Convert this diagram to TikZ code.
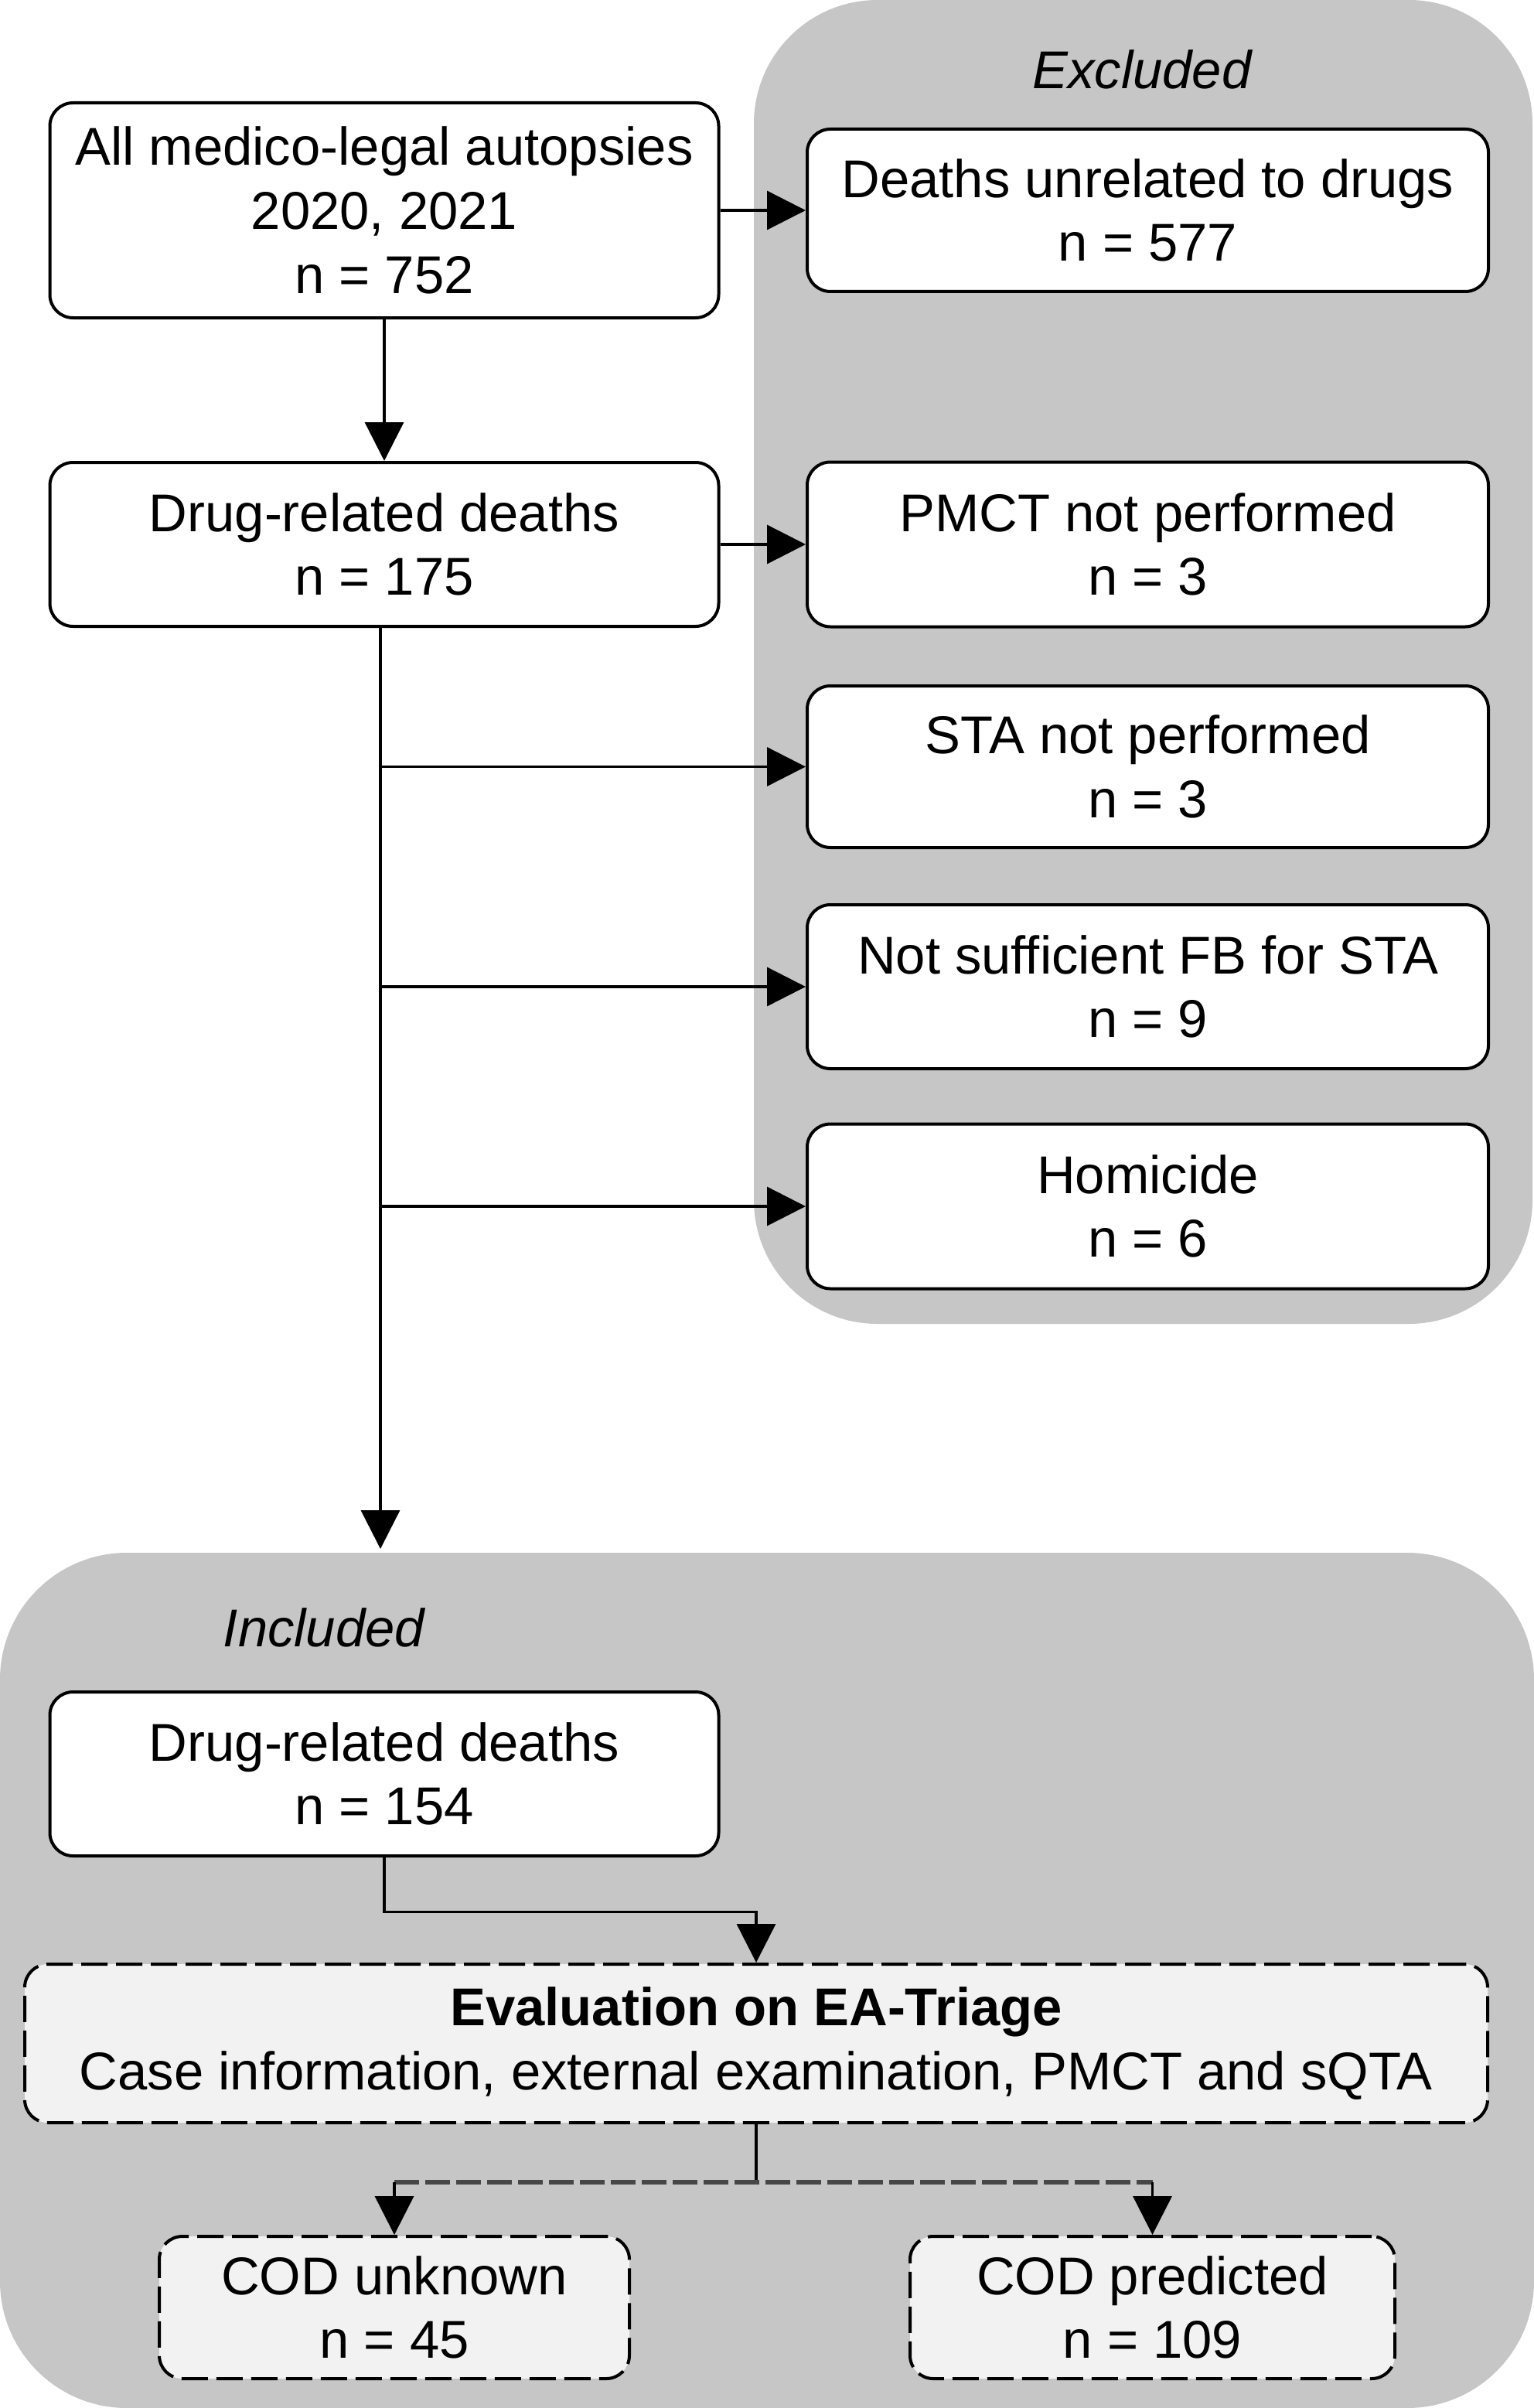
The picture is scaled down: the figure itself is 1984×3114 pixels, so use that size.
\documentclass[tikz,border=0pt]{standalone}
\usepackage{fontspec}
\setmainfont{Liberation Sans}
\usetikzlibrary{arrows.meta}
\definecolor{panelgray}{RGB}{198,198,198}
\definecolor{evalfill}{RGB}{242,242,242}
\tikzset{
  txt/.style={font=\fontsize{34.4pt}{41.3pt}\selectfont},
  flowbox/.style={txt, draw=black, line width=2pt, rounded corners=15pt, fill=white,
                  align=center, inner sep=0pt},
  dashbox/.style={flowbox, fill=evalfill, dash pattern=on 17pt off 5.5pt},
  conn/.style={line width=1.7pt, draw=black},
  arr/.style={conn, -{Triangle[length=25pt,width=25pt]}},
  dconn/.style={line width=2.8pt, draw=black!72, dash pattern=on 16pt off 4pt},
  panel/.style={fill=panelgray, draw=none, rounded corners=80pt},
  grouplabel/.style={txt, font=\fontsize{34.4pt}{41.3pt}\selectfont\itshape, anchor=base, inner sep=0pt}
}
\begin{document}
\begin{tikzpicture}[x=0.5pt,y=-0.5pt]
\useasboundingbox (0,0) rectangle (1984,3114);
% panels
\path[panel] (975,0) rectangle (1982,1712);
\path[panel, rounded corners=82pt] (0,2008) rectangle (1984,3114);
\node[grouplabel] (exlab) at (1477,115) {Excluded};
\node[grouplabel] (inlab) at (419,2129) {Included};
% left column
\node[flowbox, minimum width=432.5pt, minimum height=139pt] (all) at (497,272)
  {All medico-legal autopsies\\2020, 2021\\n = 752};
\node[flowbox, minimum width=432.5pt, minimum height=106pt] (d175) at (497,704)
  {Drug-related deaths\\n = 175};
\node[flowbox, minimum width=432.5pt, minimum height=106pt] (d154) at (497,2294)
  {Drug-related deaths\\n = 154};
% right column
\node[flowbox, minimum width=440.5pt, minimum height=105pt] (unrel) at (1484.5,272)
  {Deaths unrelated to drugs\\n = 577};
\node[flowbox, minimum width=440.5pt, minimum height=106.5pt] (pmct) at (1484.5,704)
  {PMCT not performed\\n = 3};
\node[flowbox, minimum width=440.5pt, minimum height=104.5pt] (sta) at (1484.5,991.5)
  {STA not performed\\n = 3};
\node[flowbox, minimum width=440.5pt, minimum height=106pt] (nsfb) at (1484.5,1276)
  {Not sufficient FB for STA\\n = 9};
\node[flowbox, minimum width=440.5pt, minimum height=106.5pt] (hom) at (1484.5,1560)
  {Homicide\\n = 6};
% included part
\node[dashbox, minimum width=946pt, minimum height=102.5pt] (eval) at (978,2642.5)
  {\textbf{Evaluation on EA-Triage}\\Case information, external examination, PMCT and sQTA};
\node[dashbox, minimum width=304pt, minimum height=92pt] (cu) at (510,2984)
  {COD unknown\\n = 45};
\node[dashbox, minimum width=313.5pt, minimum height=92pt] (cp) at (1490.5,2984)
  {COD predicted\\n = 109};
% connectors
\draw[arr] (all.east) -- (unrel.west);
\draw[arr] (all.south) -- (d175.north);
\draw[arr] (d175.east) -- (pmct.west);
\coordinate (inctop) at (492,2003);
\draw[arr] (d175.south -| inctop) -- (inctop);
\draw[arr] (sta.west -| inctop) -- (sta.west);
\draw[arr] (nsfb.west -| inctop) -- (nsfb.west);
\draw[arr] (hom.west -| inctop) -- (hom.west);
\draw[arr] (d154.south) -- ++(0,70.5) -| (eval.north);
\draw[conn] (eval.south) -- ++(0,75) coordinate (jn);
\draw[dconn] (cu.north |- jn) -- (cp.north |- jn);
\draw[arr] (cu.north |- jn) -- (cu.north);
\draw[arr] (cp.north |- jn) -- (cp.north);
\end{tikzpicture}
\end{document}
